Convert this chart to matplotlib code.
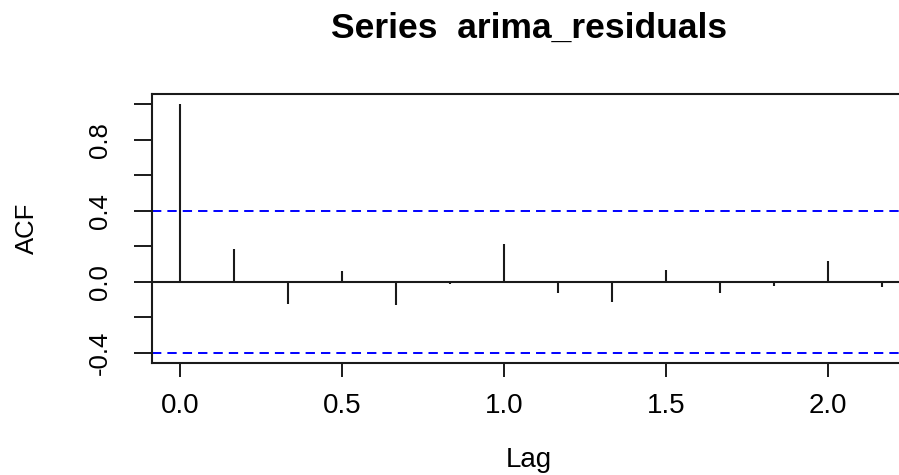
import numpy as np
import matplotlib.pyplot as plt

# autocorrelations of the ARIMA residuals, lag in years (6 obs per year)
lag_steps = list(range(14))
acf_values = [1.0, 0.185, -0.123, 0.058, -0.132, -0.011, 0.211,
              -0.064, -0.113, 0.068, -0.064, -0.024, 0.119, -0.032]
conf_limit = 0.40
x_ticks = [0.0, 0.5, 1.0, 1.5, 2.0]
y_ticks = [-0.4, 0.0, 0.4, 0.8]

lags = np.array(lag_steps) / 6.0

plt.rcParams['font.family'] = ['Liberation Sans', 'DejaVu Sans']

fig = plt.figure(figsize=(8.99, 4.75), dpi=100)
ax = fig.add_axes([0.1694, 0.2364, 0.8428, 0.5651])

ax.vlines(lags, 0, acf_values, color='#1a1a1a', lw=1.5)
ax.axhline(0, color='#1a1a1a', lw=1.5)
for c in (conf_limit, -conf_limit):
    ax.axhline(c, color='#0000ff', lw=1.4, linestyle=(0, (4.8, 3.1)))

ax.set_xlim(-0.0867, 2.2533)
ax.set_ylim(-0.456, 1.056)

ax.set_xticks(x_ticks)
ax.set_xticklabels([f'{v:.1f}' for v in x_ticks])
ax.set_yticks(np.arange(-0.4, 1.01, 0.2))
ax.set_yticklabels([f'{v:.1f}' if round(v, 1) in y_ticks else ''
                    for v in np.arange(-0.4, 1.01, 0.2)],
                   rotation=90, va='center')

ax.tick_params(axis='x', length=10, width=1.4, pad=12, labelsize=20,
               color='#1a1a1a')
ax.tick_params(axis='y', length=13, width=1.4, pad=16, labelsize=18.5,
               color='#1a1a1a')
for s in ax.spines.values():
    s.set_linewidth(1.5)
    s.set_color('#1a1a1a')

fig.text(529 / 899, (475 - 38) / 475, 'Series  arima_residuals',
         ha='center', va='baseline', fontsize=25.5, fontweight='bold')
fig.text(529 / 899, (475 - 467) / 475, 'Lag',
         ha='center', va='baseline', fontsize=20)
fig.text(27 / 899, (475 - 228) / 475, 'ACF', rotation=90,
         ha='center', va='center', fontsize=18.5)

fig.savefig('out.png', dpi=100)
